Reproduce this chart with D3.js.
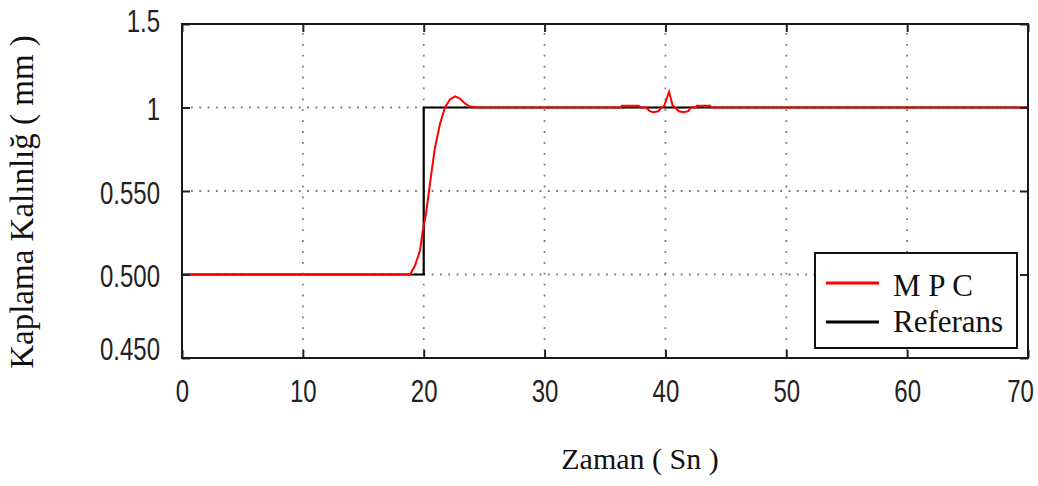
<!DOCTYPE html>
<html>
<head>
<meta charset="utf-8">
<script src="https://cdn.jsdelivr.net/npm/d3@7"></script>
<style>
  html, body { margin: 0; padding: 0; background: #fff; }
  svg { display: block; }
  .tick-label { font-family: "Liberation Sans", Arial, sans-serif; font-size: 24px; fill: #222; }
  .serif { font-family: "Liberation Serif", "Times New Roman", serif; fill: #111; }
</style>
</head>
<body>
<svg id="chart" width="1038" height="486"></svg>
<script>
// Time axis (s) and tick labels
const xTicks = [0, 10, 20, 30, 40, 50, 60, 70];
const yTicks = [0.45, 0.5, 0.55, 1, 1.5];
const yTickLabels = ["0.450", "0.500", "0.550", "1", "1.5"];

// Reference (setpoint) step
const refTime  = [0, 20, 20, 70];
const refValue = [0.5, 0.5, 1, 1];

// MPC controlled coating thickness
const mpcTime  = [0, 18.86, 19.28, 19.69, 19.92, 20.19, 20.44, 20.66, 20.93, 21.35, 21.76,
                  22.17, 22.59, 23.0, 23.42, 23.83, 24.5,
                  36.3, 36.4, 37.8, 37.9, 38.4, 38.7, 39.0, 39.4, 39.7, 39.9, 40.3, 40.6,
                  40.8, 41.1, 41.5, 41.9, 42.1, 42.5, 42.6, 43.7, 43.8, 70];
const mpcValue = [0.5, 0.5, 0.5054, 0.5143, 0.5262, 0.5363, 0.55, 0.658, 0.783, 0.913, 1,
                  1.048, 1.067, 1.054, 1.024, 1.006, 1,
                  1, 1.01, 1.01, 1, 1, 0.98, 0.975, 0.98, 1.0, 1.01, 1.095, 1.01,
                  1.0, 0.98, 0.975, 0.98, 1.0, 1, 1.01, 1.01, 1, 1];

const legendNames = ["M P C", "Referans"];
const legendColors = ["#ff0000", "#000000"];

const svg = d3.select("#chart");
const margin = { left: 182, top: 24, right: 10, bottom: 128 };
const W = 1038 - margin.left - margin.right;
const H = 486 - margin.top - margin.bottom;

const x = d3.scaleLinear().domain([0, 70]).range([0, W]);
// piecewise linear so each labelled tick sits on an even grid step
const yRange = yTicks.map((d, i) => H - i * H / (yTicks.length - 1));
const y = d3.scaleLinear().domain(yTicks).range(yRange);

const g = svg.append("g").attr("transform", `translate(${margin.left},${margin.top})`);

// grid
g.append("g").selectAll("line").data(xTicks.slice(1, -1)).join("line")
  .attr("x1", d => x(d)).attr("x2", d => x(d))
  .attr("y1", 9).attr("y2", H - 8)
  .attr("stroke", "#7a7a7a").attr("stroke-width", 1.8)
  .attr("stroke-dasharray", "1.8,9.1");
g.append("g").selectAll("line").data(yTicks.slice(1, -1)).join("line")
  .attr("y1", d => y(d)).attr("y2", d => y(d))
  .attr("x1", 9).attr("x2", W - 8)
  .attr("stroke", "#7a7a7a").attr("stroke-width", 1.8)
  .attr("stroke-dasharray", "1.8,6.5");

// lines
const refData = refTime.map((t, i) => [t, refValue[i]]);
const mpcData = mpcTime.map((t, i) => [t, mpcValue[i]]);
const line = d3.line().x(d => x(d[0])).y(d => y(d[1]));

g.append("path").datum(refData).attr("d", line)
  .attr("fill", "none").attr("stroke", "#000").attr("stroke-width", 2.2);
g.append("path").datum(mpcData).attr("d", line)
  .attr("fill", "none").attr("stroke", "#ff0000").attr("stroke-width", 2);

// axes with inward ticks on all four sides
const tickLen = 8;
const axisStyle = sel => {
  sel.select(".domain").remove();
  sel.selectAll(".tick line").attr("stroke", "#222").attr("stroke-width", 2);
};
const bottom = g.append("g").attr("transform", `translate(0,${H})`)
  .call(d3.axisBottom(x).tickValues(xTicks).tickSize(-tickLen).tickFormat(d3.format("d")))
  .call(axisStyle);
bottom.selectAll(".tick text")
  .attr("class", "tick-label").attr("fill", null)
  .attr("y", 0).attr("dy", null)
  .attr("transform", (d, i) => {
    const shift = i === xTicks.length - 1 ? -8 : 0;
    return `translate(${shift},44) scale(1,1.27)`;
  });

const left = g.append("g")
  .call(d3.axisLeft(y).tickValues(yTicks).tickSize(-tickLen).tickFormat((d, i) => yTickLabels[i]))
  .call(axisStyle);
left.selectAll(".tick text")
  .attr("class", "tick-label").attr("fill", null)
  .attr("x", 0).attr("dy", null)
  .attr("text-anchor", "end")
  .attr("transform", (d, i) => {
    const shift = i === 0 ? -10 : (i === yTicks.length - 1 ? -4 : 1);
    return `translate(-22,${11 + shift}) scale(1,1.27)`;
  });

g.append("g")
  .call(d3.axisTop(x).tickValues(xTicks).tickSize(-tickLen).tickFormat(""))
  .call(axisStyle);
g.append("g").attr("transform", `translate(${W},0)`)
  .call(d3.axisRight(y).tickValues(yTicks).tickSize(-tickLen).tickFormat(""))
  .call(axisStyle);

// frame
g.append("rect").attr("x", 0).attr("y", 0).attr("width", W).attr("height", H)
  .attr("fill", "none").attr("stroke", "#1a1a1a").attr("stroke-width", 2);

// axis titles
svg.append("text").attr("class", "serif")
  .attr("x", 640).attr("y", 469)
  .attr("text-anchor", "middle").attr("font-size", 30)
  .text("Zaman ( Sn )");
svg.append("text").attr("class", "serif")
  .attr("transform", "translate(33,202) rotate(-90)")
  .attr("text-anchor", "middle").attr("font-size", 33)
  .text("Kaplama Kalınlığ ( mm )");

// legend
const lg = g.append("g").attr("transform", `translate(${W - 213},${H - 105})`);
lg.append("rect").attr("width", 202).attr("height", 95)
  .attr("fill", "#fff").attr("stroke", "#111").attr("stroke-width", 2);
legendNames.forEach((name, i) => {
  const cy = 30 + i * 39;
  lg.append("line").attr("x1", 11).attr("x2", 64).attr("y1", cy).attr("y2", cy)
    .attr("stroke", legendColors[i]).attr("stroke-width", 3);
  lg.append("text").attr("class", "serif")
    .attr("x", 78).attr("y", cy + 13 - i * 3).attr("font-size", 31)
    .text(name);
});
</script>
</body>
</html>
